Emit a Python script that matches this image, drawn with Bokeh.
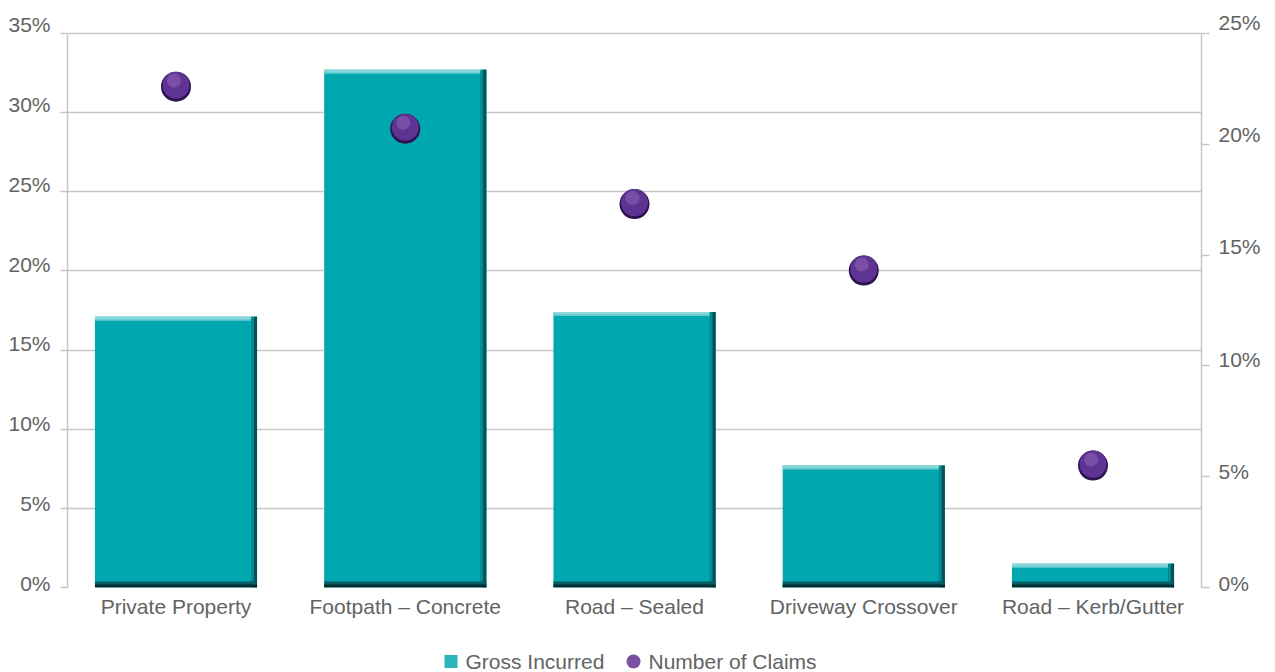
from bokeh.plotting import figure
from bokeh.models import (FactorRange, Range1d, LinearAxis, FixedTicker, PrintfTickFormatter,
                          CustomJSTickFormatter)
from bokeh.core.properties import value
from bokeh.layouts import column
from bokeh.embed import file_html
from bokeh.resources import INLINE

categories = ["Private Property", "Footpath \u2013 Concrete", "Road \u2013 Sealed",
              "Driveway Crossover", "Road \u2013 Kerb/Gutter"]
gross_incurred = [17.1, 32.7, 17.4, 7.7, 1.5]      # left axis, %
number_of_claims = [22.6, 20.7, 17.3, 14.3, 5.5]   # right axis, %
left_ticks = [0, 5, 10, 15, 20, 25, 30, 35]
right_ticks = [0, 5, 10, 15, 20, 25]
series_names = ["Gross Incurred", "Number of Claims"]

FONT = "Liberation Sans"
FS = "21px"
TXT = "#636363"
GRID = "#C6C6C6"

LEFT_MAX, RIGHT_MAX = 35, 25
FRAME_W, FRAME_H = 1134, 574          # frame extends 18px above the 35% grid line
GRID_H = 556
X_SPAN = 4.9466
px_y = LEFT_MAX / GRID_H
px_x = X_SPAN / FRAME_W
px_r = RIGHT_MAX / GRID_H

p = figure(width=1275, height=620,
           x_range=FactorRange(factors=categories, range_padding=-0.0107, range_padding_units="percent"),
           y_range=Range1d(0, LEFT_MAX * FRAME_H / GRID_H), output_backend="svg", toolbar_location=None,
           min_border_left=67, min_border_right=74, min_border_top=15, min_border_bottom=31)
p.extra_y_ranges = {
    "claims": Range1d(0, RIGHT_MAX * FRAME_H / GRID_H),
    # label-only ranges: tick labels sit slightly above their grid lines, as in the reference
    "left_lab": Range1d(-0.2496, 35.562),
    "right_lab": Range1d(-0.1776, 25.311),
}
p.outline_line_color = None
p.background_fill_color = "white"
p.border_fill_color = "white"

# bars with bevel shading
W = 0.707
xs = [i + 0.5 for i in range(len(categories))]
lefts = [x - W / 2 for x in xs]
rights = [x + W / 2 for x in xs]
p.vbar(x=xs, top=gross_incurred, width=W, fill_color="#00A7AF", line_color=None)
p.quad(left=lefts, right=rights, top=gross_incurred,
       bottom=[t - 4 * px_y for t in gross_incurred], fill_color="#6BCDD1", line_color=None)
p.quad(left=lefts, right=rights, top=gross_incurred,
       bottom=[t - 2 * px_y for t in gross_incurred], fill_color="#8ED9DC", line_color=None)
p.quad(left=[r - 6 * px_x for r in rights], right=rights, top=gross_incurred,
       bottom=[0] * len(xs), fill_color="#058890", line_color=None)
p.quad(left=[r - 3 * px_x for r in rights], right=rights, top=gross_incurred,
       bottom=[0] * len(xs), fill_color="#03525A", line_color=None)
p.quad(left=lefts, right=rights, top=[6 * px_y] * len(xs), bottom=[0] * len(xs),
       fill_color="#045E63", line_color=None)
p.quad(left=lefts, right=rights, top=[3 * px_y] * len(xs), bottom=[0] * len(xs),
       fill_color="#022E31", line_color=None)

# dots
p.scatter(x=xs, y=number_of_claims, y_range_name="claims", size=30,
          fill_color="#2E1250", line_color=None)
p.scatter(x=xs, y=[v + 1.5 * px_r for v in number_of_claims], y_range_name="claims", size=27,
          fill_color="#5F3393", line_color=None)
p.scatter(x=[x - 2 * px_x for x in xs], y=[v + 6 * px_r for v in number_of_claims],
          y_range_name="claims", size=14, fill_color="#8A66B8", fill_alpha=0.55, line_color=None)

# x axis
p.xaxis.axis_line_color = None
p.xaxis.major_tick_line_color = None
p.xaxis.major_tick_out = 0
p.xaxis.major_tick_in = 0
p.xaxis.minor_tick_line_color = None
p.xaxis.major_label_standoff = 7
p.xaxis.major_label_text_font = FONT
p.xaxis.major_label_text_font_size = FS
p.xaxis.major_label_text_color = TXT
p.xgrid.grid_line_color = None

blank = CustomJSTickFormatter(code="return ''")


def tick_axis(ax, out, bounds):
    ax.bounds = bounds
    ax.axis_line_color = GRID
    ax.axis_line_width = 1.5
    ax.major_tick_line_color = GRID
    ax.major_tick_line_width = 1.5
    ax.major_tick_out = out
    ax.major_tick_in = 0
    ax.minor_tick_line_color = None
    ax.major_label_standoff = 0
    ax.major_label_text_font_size = "1px"


def label_axis(ax, standoff):
    ax.axis_line_color = None
    ax.major_tick_line_color = None
    ax.major_tick_out = 0
    ax.major_tick_in = 0
    ax.minor_tick_line_color = None
    ax.major_label_standoff = standoff
    ax.major_label_text_font = FONT
    ax.major_label_text_font_size = FS
    ax.major_label_text_color = TXT


# left: inner axis draws line + ticks, outer axis draws labels
p.yaxis.ticker = FixedTicker(ticks=left_ticks)
p.yaxis.formatter = blank
tick_axis(p.yaxis[0], 7, (0, LEFT_MAX))
la = LinearAxis(y_range_name="left_lab", ticker=FixedTicker(ticks=left_ticks),
                formatter=PrintfTickFormatter(format="%d%%"))
label_axis(la, 10)
p.add_layout(la, "left")

p.ygrid.ticker = FixedTicker(ticks=left_ticks)
p.ygrid.grid_line_color = GRID
p.ygrid.grid_line_width = 1.5

# right
rt = LinearAxis(y_range_name="claims", ticker=FixedTicker(ticks=right_ticks), formatter=blank)
tick_axis(rt, 8, (0, RIGHT_MAX))
p.add_layout(rt, "right")
rl = LinearAxis(y_range_name="right_lab", ticker=FixedTicker(ticks=right_ticks),
                formatter=PrintfTickFormatter(format="%d%%"))
label_axis(rl, 9)
p.add_layout(rl, "right")

# legend strip below; its frame spans the same pixels as the chart frame (x in screen px)
p2 = figure(width=1275, height=52, x_range=Range1d(67, 1201), y_range=Range1d(0, 52),
            output_backend="svg", toolbar_location=None,
            min_border_left=67, min_border_right=74, min_border_top=0, min_border_bottom=0)
p2.axis.visible = False
p2.grid.visible = False
p2.outline_line_color = None
LEG_Y = 11
p2.scatter(x=[450.5], y=[LEG_Y], marker="square", size=13, fill_color="#2BB5BA", line_color=None)
p2.scatter(x=[633], y=[LEG_Y], marker="circle", size=14, fill_color="#7B50A0", line_color=None)
p2.text(x=[465, 648], y=[LEG_Y, LEG_Y], text=series_names, text_font=value(FONT),
        text_font_size=FS, text_color=TXT, text_baseline="middle", text_align="left")

layout = column(p, p2, spacing=0)
open("out.html", "w").write(file_html(layout, INLINE))
